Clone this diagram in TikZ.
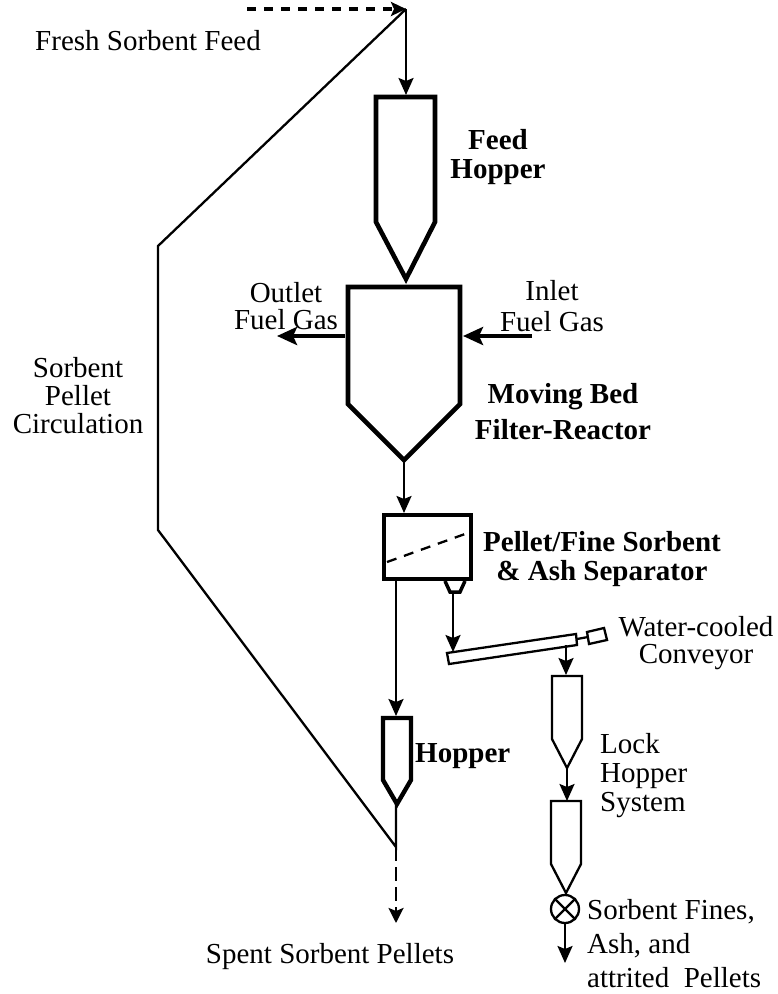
\documentclass[tikz,border=0pt]{standalone}
\usepackage{fontspec}
\setmainfont{Liberation Serif}
\usetikzlibrary{arrows.meta}
\tikzset{
  px/.style={x=1pt,y=-1pt},
  thin line/.style={line width=2.3pt,line join=miter},
  heavy/.style={line width=4.6pt,line join=miter},
  flow/.style={line width=2.3pt,-{Stealth[length=17pt,width=15pt,inset=3pt]}},
  gasflow/.style={line width=4.7pt,-{Stealth[length=20pt,width=18pt,inset=4pt]}},
  dashtop/.style={line width=3.2pt,dash pattern=on 9pt off 8pt,-{Stealth[length=15pt,width=14pt,inset=3pt]}},
  dashspent/.style={line width=2.6pt,dash pattern=on 14pt off 6pt,-{Stealth[length=15pt,width=15pt,inset=3pt]}},
  lbl/.style={font=\fontsize{29}{#1}\selectfont,align=center,inner sep=0pt},
  lbl/.default=29,
  lbll/.style={font=\fontsize{29}{#1}\selectfont,align=left,inner sep=0pt},
  blbl/.style={font=\fontsize{29}{#1}\selectfont\bfseries,align=center,inner sep=0pt},
  blbl/.default=29,
}
\begin{document}
\begin{tikzpicture}[px]
\useasboundingbox (0,0) rectangle (777,994);
% named points
\coordinate (feedstart) at (247,9);
\coordinate (top) at (406,9);
\coordinate (fhtop) at (406,95);
\coordinate (fhtip) at (406,280);
\coordinate (rtip) at (404,460);
\coordinate (septop) at (404,513);
\coordinate (trapbot) at (453,593);
\coordinate (convin) at (453,652);
\coordinate (convout) at (566,645);
\coordinate (lh1top) at (566,675);
\coordinate (lh1tip) at (567,768);
\coordinate (lh2top) at (567,801);
\coordinate (sepout) at (396,581);
\coordinate (htop) at (396,716);
\coordinate (htip) at (396,804);
\coordinate (junction) at (396,847);
\coordinate (spentend) at (396,923);
\coordinate (cl) at (158,530);
\coordinate (cu) at (158,246);
\coordinate (outA) at (345,336);
\coordinate (outB) at (277,336);
\coordinate (inA) at (532,336);
\coordinate (inB) at (463,336);
\coordinate (valveout) at (565,963);
% vessels
\draw[heavy] (376,97) -- (435,97) -- (435,222) -- (406,279) -- (376,222) -- cycle;
\draw[heavy] (348,287) -- (460,287) -- (460,404) -- (404,460) -- (348,404) -- cycle;
\draw[heavy] (384,515) rectangle (471,579);
\draw[line width=2.3pt,dash pattern=on 10pt off 8pt] (387,562) -- (465,534);
\draw[line width=3.5pt,line join=miter] (445,581) -- (450,592) -- (460,592) -- (465,581);
\draw[thin line] (447,653) -- (576,634) -- (577,645) -- (449,664) -- cycle;
\draw[thin line] (577,639) -- (588,637);
\draw[thin line] (587,632) -- (604,628) -- (607,640) -- (589,644) -- cycle;
\draw[thin line] (552,676) -- (582,676) -- (582,739) -- (567,768) -- (552,739) -- cycle;
\draw[thin line] (551,801) -- (581,801) -- (581,864) -- (566,893) -- (551,864) -- cycle;
\draw[line width=4.4pt,line join=miter] (383,718) -- (411,718) -- (411,780) -- (397,804) -- (383,780) -- cycle;
% valve
\node[circle,draw,line width=2.3pt,minimum size=28pt,inner sep=0pt] (valve) at (565,909) {};
\draw[line width=2.3pt] (valve.north west) -- (valve.south east);
\draw[line width=2.3pt] (valve.north east) -- (valve.south west);
% connectors
\draw[dashtop] (feedstart) -- (top);
\draw[flow] (top) -- (fhtop);
\draw[flow] (rtip) -- (septop);
\draw[flow] (sepout) -- (htop);
\draw[flow] (trapbot) -- (convin);
\draw[flow] (convout) -- (lh1top);
\draw[flow] (lh1tip) -- (lh2top);
\draw[flow] (valve.south) -- (valveout);
\draw[gasflow] (outA) -- (outB);
\draw[gasflow] (inA) -- (inB);
\draw[line width=2.3pt,line join=miter] (top) -- (cu) -- (cl) -- (junction) -- (htip);
\draw[dashspent] (junction) -- (spentend);
% labels
\node[lbl,anchor=base] (l1) at (148,50) {Fresh Sorbent Feed};
\node[blbl=29,anchor=base] (l2) at (498,178) {Feed\\Hopper};
\node[lbl=27,anchor=base] (l3) at (286,329) {Outlet\\Fuel Gas};
\node[lbl=31,anchor=base] (l4) at (552,331) {Inlet\\Fuel Gas};
\node[blbl=36,anchor=base] (l5) at (563,439) {Moving Bed\\Filter-Reactor};
\node[lbl=28,anchor=base] (l6) at (78,433) {Sorbent\\Pellet\\Circulation};
\node[blbl=29,anchor=base] (l7) at (602,580) {Pellet/Fine Sorbent\\\& Ash Separator};
\node[lbl=27,anchor=base] (l8) at (696,663) {Water-cooled\\Conveyor};
\node[lbll=29,anchor=base west] (l9) at (600,811) {Lock\\Hopper\\System};
\node[blbl,anchor=base west] (l10) at (415,762) {Hopper};
\node[lbll=34,anchor=base west] (l11) at (587,987) {Sorbent Fines,\\Ash, and\\attrited~ Pellets};
\node[lbl,anchor=base] (l12) at (330,963) {Spent Sorbent Pellets};
\end{tikzpicture}
\end{document}
